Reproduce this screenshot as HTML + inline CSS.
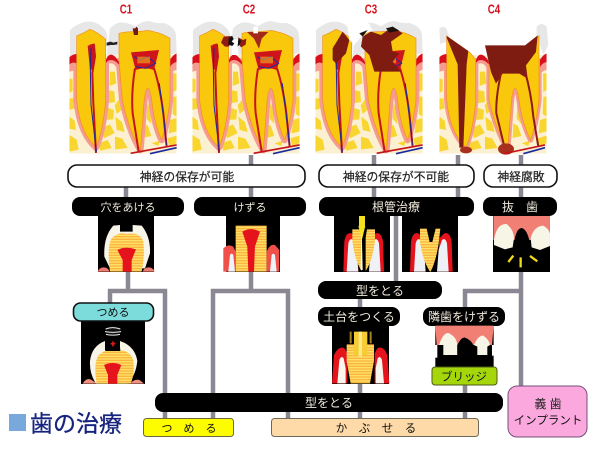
<!DOCTYPE html>
<html><head><meta charset="utf-8"><style>
html,body{margin:0;padding:0;background:#fff;width:600px;height:450px;overflow:hidden}
svg{display:block}
text{font-family:"Liberation Sans","Noto Sans CJK JP",sans-serif;text-anchor:middle}
</style></head><body>
<svg width="600" height="450" viewBox="0 0 600 450" xmlns="http://www.w3.org/2000/svg">
<defs>
<pattern id="st" width="8" height="8" patternUnits="userSpaceOnUse"><rect width="8" height="8" fill="#fbb53c"/><rect width="8" height="4" fill="#fde06a"/></pattern>
<clipPath id="pc"><rect x="28" y="50" width="322" height="411"/></clipPath>
<clipPath id="rc"><rect x="28" y="175" width="322" height="286"/></clipPath>
<path id="lt" d="M50 170V108Q70 100 90 88q25 10 47 30V300Q130 390 108 442 60 400 50 300Z"/>
<path id="rt" d="M177 180V100q20-5 38-5 20 0 36-2 15-3 30 2 25 5 49 20V300q-8 70-25 120-22-45-30-120-5-35-12-35-8 0-12 55-4 60-10 130-35-60-54-150Z"/>
<path id="lt4" d="M50 170V108l70 50 17 20V300Q130 390 108 442 60 400 50 300Z"/>
<path id="rt4" d="M177 180V140h110l40-32v192q-8 70-25 120-26-50-35-120-5-35-12-35-8 0-12 55-4 60-10 130-35-60-56-150Z"/>
<g id="bone" clip-path="url(#pc)">
<rect x="28" y="165" width="322" height="296" fill="#fbf1d2"/>
<g fill="#f9d530">
<path d="M28 235l10 3v35l-10 6zM28 295h12l4 30-16 5zM28 350l16 12 4 28-20-4zM28 405l22 14 6 30-28 6zM150 215h15l4 35-20 8zM143 270l20 4 2 32-24 4zM176 300l8 30-14 12-6-26zM140 322l22 8-2 28-26 2zM166 350l20 16 8 30-24-6zM125 385l25-12 14 26-32 16zM115 430l28-10 12 24-34 8zM165 410l22 6 16 28-38 4zM339 220h11v50l-10 6zM340 290h10v60l-12-8zM330 360l20-6v40l-24 6zM322 415l28-8v22l-22 12zM262 310l8 12 4 50-14-16zM250 370l14 8 10 30-26 6zM275 430l24-8-4 16z"/>
</g>
</g>
<g id="pink" clip-path="url(#rc)" fill="none" stroke="#f59b90" stroke-width="20" stroke-linejoin="round">
<use href="#lt"/><use href="#rt"/>
</g>
<g id="pink4" clip-path="url(#rc)" fill="none" stroke="#f59b90" stroke-width="16" stroke-linejoin="round">
<use href="#lt4"/><use href="#rt4"/>
</g>
<g id="gum" clip-path="url(#pc)">
<path d="M28 172q10-10 22-10v28q-12-6-22 4z" fill="#d9101c"/>
<path d="M28 194q10-8 22-4v24q-12-4-22 2z" fill="#f59b90"/>
<path d="M137 192q5-28 16-28t24 28l-2 22q-10-24-22-24t-16 8z" fill="#f59b90"/>
<path d="M137 184q5-20 16-20t24 22v8q-12-14-24-14t-16 12z" fill="#d9101c"/>
<path d="M330 200q6-12 20-14v24q-14 2-18 12z" fill="#f59b90"/>
<path d="M330 180q8-15 20-20v26q-14 2-20 16z" fill="#d9101c"/>
</g>
<g id="enamel">
<path d="M30 168V90q30-25 55-25t40 15q15 10 17 30l-2 25-3 30H50l-20 3z" fill="#e7e7e7"/>
<path d="M140 165l10-80q15-15 30-18 25 0 45 12 20-15 40-16 25 8 45 6 35 10 38 35l2 55-20 5H180z" fill="#e7e7e7"/>
</g>
<g id="dent">
<use href="#lt" fill="#f9c70c" stroke="#f08f1c" stroke-width="2"/>
<use href="#rt" fill="#f9c70c" stroke="#f08f1c" stroke-width="2"/>
</g>
<g id="nerve" fill="none">
<path d="M89 137l12-3 4 35-8 50 3 90 8 150" stroke="#c5141c" stroke-width="6"/>
<path d="M83 137l22-3 2 30-7 45h-10z" fill="#c5141c"/>
<path d="M93 145l-2 60 2 110 16 140" stroke="#1a2a9c" stroke-width="3"/>
<path d="M213 157l84-7-15 60q-28-10-55 0z" fill="#d0141c"/>
<path d="M225 205Q213 280 218 340L236 455M282 205Q300 260 310 340L320 440" stroke="#c5141c" stroke-width="6"/>
<path d="M222 170l20 10 20-10 25 20-30 15-30-5M298 250l16 130 5 55" stroke="#1a2a9c" stroke-width="3"/>
<path d="M232 170h38v20h-38z" fill="#f4b01c" opacity=".6"/>
</g>
<g id="ves" fill="none">
<path d="M212 460L350 435" stroke="#c5141c" stroke-width="5"/>
<path d="M270 461L350 443" stroke="#1a2a9c" stroke-width="5"/>
</g>
<g id="base"><use href="#bone"/><use href="#pink"/><use href="#enamel"/><use href="#gum"/><use href="#dent"/></g>
<g id="cavtooth">
<path d="M133 290Q130 230 160 197L180 195V215H218V195L245 197Q272 230 270 280L255 325H150Z" fill="#f7f4e8"/>
<path d="M150 335Q140 260 155 235 175 215 200 222 240 215 250 245 255 290 245 335Z" fill="url(#st)"/>
<path d="M172 270Q195 258 228 268L215 300V335H188V300Z" fill="#e5141c"/>
</g>
</defs>

<!-- connectors -->
<g stroke="#8c8893" stroke-width="4.5" fill="none">
<path d="M251 155V198M374 155V198M458 155V198M521 155V198M126 186V198"/>
<path d="M128 270V291M107.8 291H167.2M110 291V304M165 291V418"/>
<path d="M251 270V291M210.8 291H290.2M213 289V418M288 289V418"/>
<path d="M396 214V283M360 298V418M465 289V418M462.8 291H523.2M521 270V388"/>
</g>

<!-- teeth -->
<g transform="translate(60 0) scale(.3333)">
<use href="#base"/><use href="#nerve"/><use href="#ves"/>
<path d="M218 85l8 0 3-5 5 5 0 20h-12z" fill="#6e1c14"/>
<path d="M140 128l12-3 8 3 12-3v8l-12 2-8 0-12 2z" fill="#222"/>
</g>
<g transform="translate(183 0) scale(.3333)">
<use href="#base"/><use href="#nerve"/><use href="#ves"/>
<path d="M122 110l20-2 4 12-8 20-12 0-12-12z" fill="#8e1c12"/>
<path d="M166 112l14 8 10-4-2 18-14 8-8-12z" fill="#8e1c12"/>
<path d="M192 96h64l-20 20-8 30-15-30z" fill="#a3291a"/>
<rect x="211" y="80" width="14" height="20" fill="#fff"/>
<rect x="146" y="118" width="20" height="47" fill="#fff"/>
<path d="M137 115l10-8 5 10-6 8 8 5-6 8-12-4zM166 116l8 6-4 12-6 6z" fill="#111"/>
</g>
<g transform="translate(306 0) scale(.3333)">
<use href="#base"/><use href="#nerve"/>
<path d="M80 145l30-50 20 25-10 40-30 30-10-10zM195 95l30 10 35-25 30 20-35 25 5 30 20 5-20 25 25 30h-80l-15-50-25-25 5-30z" fill="#7e1c12"/>
<path d="M120 60l20 30 15-30 30 5 15 25-30 15-25 30-15-15-5-35z" fill="#fff"/>
<path d="M240 85l20-5 20 12-30 6zM160 100l25-10-15 20z" fill="#1c1008"/>
<use href="#ves"/>
</g>
<g transform="translate(430 0) scale(.3333)">
<use href="#bone"/><use href="#pink4"/>
<path d="M28 85q15-10 22 2l10 35-30 10zM320 80q15-15 30 0l5 55-15 30-20-60z" fill="#e7e7e7"/>
<use href="#gum"/>
<use href="#lt4" fill="#f9c70c" stroke="#f08f1c" stroke-width="2"/>
<use href="#rt4" fill="#f9c70c" stroke="#f08f1c" stroke-width="2"/>
<path d="M50 108l65 45-5 40-10 250h-12l-5-250-33-80zM165 136h120l38-30-5 50-30 40 5 40-25-15-50 0-20 30-15-35Z" fill="#7e1c12"/>
<path d="M215 210q-18 80-16 130l24 100M285 215q18 60 25 135l15 90" stroke="#8e1c12" stroke-width="6" fill="none"/>
<ellipse cx="108" cy="450" rx="18" ry="10" fill="#a9301f"/>
<ellipse cx="228" cy="447" rx="24" ry="17" fill="#a9301f"/>
<path d="M222 461L345 435" stroke="#c5141c" stroke-width="5"/><path d="M280 461L345 443" stroke="#1a2a9c" stroke-width="5"/>
</g>

<g font-size="12.5" fill="#d8101c" font-weight="bold">
<text x="126" y="13.5" transform="translate(126 0) scale(.78 1) translate(-126 0)">C1</text>
<text x="249" y="13.5" transform="translate(249 0) scale(.78 1) translate(-249 0)">C2</text>
<text x="371" y="13.5" transform="translate(371 0) scale(.78 1) translate(-371 0)">C3</text>
<text x="494" y="13.5" transform="translate(494 0) scale(.78 1) translate(-494 0)">C4</text>
</g>

<!-- white pills -->
<g fill="#fff" stroke="#111" stroke-width="1.6">
<rect x="68" y="165" width="237" height="22" rx="9"/>
<rect x="319" y="165" width="155" height="22" rx="9"/>
<rect x="484" y="165" width="73" height="22" rx="9"/>
</g>
<g font-size="11.8" fill="#222" stroke="#222" stroke-width=".2">
<text x="187" y="181">神経の保存が可能</text>
<text x="396" y="181">神経の保存が不可能</text>
<text x="521" y="181">神経腐敗</text>
</g>

<!-- black headers + images -->
<g fill="#000">
<rect x="72" y="197" width="112" height="19" rx="8"/>
<rect x="194" y="197" width="112" height="19" rx="8"/>
<rect x="319" y="197" width="155" height="19" rx="8"/>
<rect x="483" y="197" width="74" height="19" rx="8"/>
<rect x="98" y="214" width="56" height="58"/>
<rect x="226" y="214" width="54" height="58"/>
<rect x="334" y="214" width="56" height="58"/>
<rect x="402" y="214" width="56" height="58"/>
<rect x="493" y="216" width="57" height="56"/>
<rect x="318" y="281" width="124" height="18" rx="8"/>
<rect x="318" y="307" width="82" height="19" rx="8"/>
<rect x="423" y="307" width="82" height="19" rx="8"/>
<rect x="332" y="326" width="57" height="58"/>
<rect x="155" y="393" width="348" height="19" rx="8"/>
</g>

<!-- 穴をあける image -->
<g transform="translate(60 160) scale(.3333)">
<use href="#cavtooth"/>
<path d="M113 335a19 19 0 0 1 36 0zM248 335a19 19 0 0 1 36 0z" fill="#f27a70"/>
</g>

<!-- けずる image -->
<g transform="translate(60 160) scale(.3333)">
<path d="M527 197H620V335H527Z" fill="url(#st)"/>
<path d="M547 215Q573 200 600 215L585 260 582 335H565L562 260Z" fill="#e5141c"/>
<path d="M490 335V265q15-15 30-5l7 15V335ZM620 335V275q10-25 25-20l13 15V335Z" fill="#f0504a"/>
<path d="M505 335l5-50q5-8 10 0l5 50ZM630 335l5-50q5-8 10 0l5 50Z" fill="#edf3f7"/>
</g>

<!-- 根管 images -->
<g transform="translate(310 160) scale(.3333)">
<path d="M100 335l3-90q5-30 22-25l15 15 5 100ZM222 335l-3-90q-5-30-22-25l-15 15-5 100Z" fill="#e5141c"/>
<path d="M110 335l5-85q5-18 15-10l10 30 5 65ZM212 335l-5-85q-5-18-15-10l-10 30-5 65Z" fill="#eef2f6"/>
<path d="M127 208h24l4 25 0 100q-20-30-28-90ZM195 208h-24l-4 25 0 100q20-30 28-90Z" fill="url(#st)"/>
<rect x="147" y="168" width="18" height="30" fill="#f4e21c"/>
<path d="M145 198h21l-10 40z" fill="#f4e21c"/>
<path d="M155 205l-3 125h6z" fill="#fff"/>
<path d="M300 335l3-90q5-30 22-25l15 15 5 100ZM428 335l-3-90q-5-30-22-25l-15 15-5 100Z" fill="#e5141c"/>
<path d="M312 335l5-85q5-18 15-10l10 30 5 65ZM416 335l-5-85q-5-18-15-10l-10 30-5 65Z" fill="#eef2f6"/>
<path d="M330 206h20l9 40h8l10-40h14l-5 45q-10 60-25 85-22-30-31-90Z" fill="url(#st)"/>
</g>

<!-- 抜歯 image -->
<g transform="translate(310 160) scale(.3333)">
<rect x="550" y="168" width="170" height="72" fill="#f27f74"/>
<path d="M552 240Q560 190 590 192 612 210 612 235L608 262 585 268 552 255Z" fill="#f7f5e6"/>
<path d="M720 258 690 270 665 262 662 235Q670 200 700 197 715 205 720 220Z" fill="#f7f5e6"/>
<path d="M612 250Q618 205 635 204 652 208 660 250V265H612Z" fill="#000"/>
<g stroke="#f0d81c" stroke-width="7" fill="none"><path d="M610 287L595 306M632 292V322M660 288L682 304"/></g>
</g>

<!-- labels -->
<g font-size="12" fill="#f0eadc">
<text x="128" y="211" font-size="11">穴をあける</text>
<text x="250" y="211" font-size="11">けずる</text>
<text x="396" y="211">根管治療</text>
<text x="520" y="211">抜　歯</text>
<text x="380" y="295">型をとる</text>
<text x="359" y="321">土台をつくる</text>
<text x="464" y="321">隣歯をけずる</text>
<text x="329" y="407">型をとる</text>
</g>

<!-- つめる pill + image -->
<rect x="81" y="319" width="64" height="65" fill="#000"/>
<g transform="translate(81 321) scale(.3333) translate(-245 -80)">
<path d="M272 200q5-45 45-60v30h45v-30q45 15 52 60-5 45-30 68H290q-20-30-18-68z" fill="#f7f4e8"/>
<path d="M292 268q-10-60 5-85 20-15 25-15h50q25 10 30 30 5 40-8 70z" fill="url(#st)"/>
<path d="M314 212q25-12 52 0l-12 30v26h-28v-26z" fill="#e5141c"/>
<path d="M320 170l3-35h37l3 35z" fill="#000"/>
<path d="M334 148h14M341 141v15" stroke="#e5141c" stroke-width="5"/>
<ellipse cx="341" cy="110" rx="24" ry="14" fill="#111"/>
<path d="M319 104q20-8 44 0M317 112q24 4 48 0M320 120q20 5 42 0" stroke="#eee" stroke-width="3" fill="none"/>
<path d="M250 268q10-18 25-12l18 12zM392 268q15-16 30-10l12 10z" fill="#f4907f"/>
</g>
<rect x="73.5" y="303" width="80" height="18" rx="7" fill="#7cdcdc" stroke="#111" stroke-width="1.6"/>
<text x="113" y="316" font-size="11" fill="#111">つめる</text>

<!-- 土台 image -->
<g transform="translate(300 295) scale(.3333)">
<path d="M96 265l6-85q15-30 32-20l8 15v90ZM268 265l-6-85q-12-30-30-20l-8 15v90Z" fill="#e5141c"/>
<path d="M112 265l6-70q6-15 13-5l6 30 0 45ZM252 265l-6-70q-6-15-13-5l-6 30 0 45Z" fill="#f7f5ec"/>
<path d="M140 148h82v50l-12 67h-58l-12-67Z" fill="url(#st)"/>
<rect x="162" y="110" width="40" height="70" fill="#f6cc34"/>
<rect x="176" y="110" width="10" height="75" fill="#fbe98a"/>
<path d="M152 110v35M212 110v35" stroke="#a58124" stroke-width="6"/>
</g>

<!-- 隣歯 image -->
<g transform="translate(300 295) scale(.3333)">
<rect x="406" y="92" width="175" height="125" fill="#000"/>
<path d="M406 92H581L576 150H410Z" fill="#f27f74"/>
<path d="M417 150Q430 112 445 114 470 125 472 150V180H430V150Z" fill="#f7f5e6"/>
<path d="M522 150Q535 120 550 122 568 135 570 150L562 155V180H532V155Z" fill="#f7f5e6"/>
<path d="M472 150Q485 125 495 128 515 135 522 155V180H472Z" fill="#000"/>
<rect x="400" y="150" width="12" height="38" fill="#fff"/>
<rect x="576" y="150" width="12" height="32" fill="#fff"/>
</g>
<rect x="432" y="367" width="65" height="18" rx="3" fill="#a5d60a" stroke="#4f5a18" stroke-width="1"/>
<text x="464" y="380.5" font-size="11.5" fill="#112">ブリッジ</text>

<!-- bottoms -->
<rect x="143.5" y="418.5" width="90" height="18" rx="3" fill="#fdfd00" stroke="#6c6a3a" stroke-width="1"/>
<text x="189" y="432" font-size="11" fill="#111">つ　め　る</text>
<rect x="271.5" y="418.5" width="207" height="18" rx="3" fill="#fddaa8" stroke="#6e6a5a" stroke-width="1"/>
<text x="376" y="432" font-size="11.5" fill="#111">か　ぶ　せ　る</text>
<rect x="508" y="386" width="79" height="51" rx="9" fill="#fba8de" stroke="#72507a" stroke-width="1"/>
<text x="548" y="408" font-size="12" fill="#222">義 歯</text>
<text x="548" y="424" font-size="11.5" fill="#111">インプラント</text>

<rect x="9" y="414" width="17" height="17" fill="#78a8dc"/>
<text x="76" y="431.5" font-size="23" fill="#17237e" stroke="#17237e" stroke-width=".3">歯の治療</text>
</svg>
</body></html>
